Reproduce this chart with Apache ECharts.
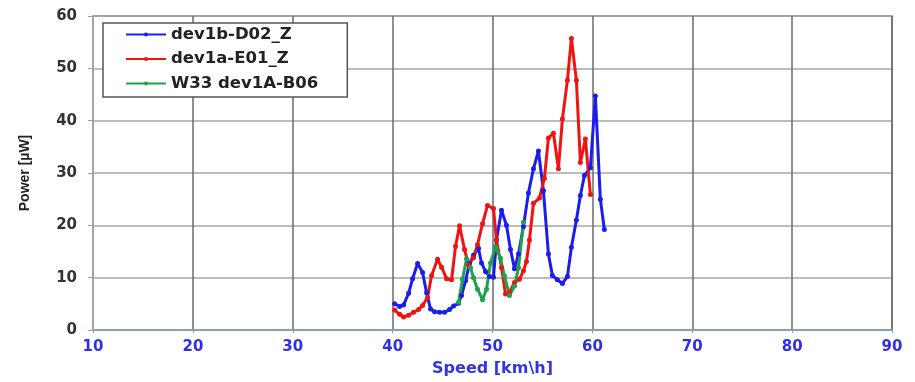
<!DOCTYPE html>
<html>
<head>
<meta charset="utf-8">
<script src="https://cdn.jsdelivr.net/npm/echarts@6/dist/echarts.min.js"></script>
<style>
  html, body { margin: 0; padding: 0; background: #fff; }
  #chart { width: 915px; height: 382px; }
</style>
</head>
<body>
<div id="chart"></div>
<script>
// values
const seriesNames = ['dev1b-D02_Z', 'dev1a-E01_Z', 'W33 dev1A-B06'];
const xTicks = [10, 20, 30, 40, 50, 60, 70, 80, 90];
const yTicks = [0, 10, 20, 30, 40, 50, 60];

const blueSpeed = [40.2, 40.7, 41.1, 41.6, 42.0, 42.5, 43.0, 43.4, 43.8, 44.2, 44.7, 45.2, 45.7, 46.1, 46.6, 46.9,
  47.3, 47.7, 48.1, 48.6, 48.9, 49.3, 49.7, 50.1, 50.4, 50.9, 51.4, 51.8, 52.2, 52.6, 53.1, 53.6, 54.1, 54.6,
  55.1, 55.6, 56.0, 56.5, 57.0, 57.5, 57.9, 58.4, 58.8, 59.2, 59.8, 60.3, 60.8, 61.2];
const bluePower = [5.0, 4.5, 4.8, 7.0, 9.8, 12.7, 11.0, 7.1, 4.0, 3.5, 3.4, 3.4, 3.9, 4.6, 5.1, 6.6,
  9.4, 12.7, 14.3, 15.6, 12.8, 11.2, 10.2, 10.1, 17.2, 22.9, 20.0, 15.4, 11.7, 14.5, 19.8, 26.2, 30.8, 34.2,
  26.6, 14.5, 10.4, 9.6, 8.9, 10.2, 15.8, 21.0, 25.7, 29.5, 31.0, 44.7, 25.0, 19.2];

const redSpeed = [40.2, 40.7, 41.1, 41.6, 42.1, 42.6, 43.0, 43.5, 43.9, 44.5, 44.9, 45.4, 45.9, 46.3, 46.7, 47.2,
  47.6, 48.1, 48.5, 49.0, 49.5, 50.1, 50.4, 50.9, 51.3, 51.7, 52.2, 52.7, 53.1, 53.4, 53.7, 54.1, 54.7, 55.2,
  55.6, 56.1, 56.6, 57.0, 57.5, 57.9, 58.4, 58.8, 59.3, 59.8];
const redPower = [3.8, 3.0, 2.5, 2.8, 3.4, 3.9, 4.7, 6.2, 10.4, 13.5, 12.0, 9.8, 9.6, 16.0, 19.9, 15.4,
  12.4, 13.8, 16.3, 20.3, 23.8, 23.2, 17.2, 11.9, 6.9, 7.2, 9.1, 9.7, 11.3, 13.1, 17.2, 24.2, 25.2, 29.0,
  36.7, 37.6, 30.8, 40.3, 47.7, 55.7, 47.7, 32.0, 36.5, 25.9];

const greenSpeed = [46.6, 47.0, 47.4, 47.8, 48.1, 48.5, 49.0, 49.4, 49.8, 50.3, 50.8, 51.2, 51.7, 52.2, 52.6, 53.1];
const greenPower = [5.3, 9.7, 13.6, 11.9, 10.0, 7.8, 5.8, 7.8, 12.8, 15.9, 13.7, 10.3, 6.6, 8.4, 11.9, 20.6];

const colors = ['#1c1ced', '#ee1414', '#1fa24c'];
const pair = (xs, ys) => xs.map((x, i) => [x, ys[i]]);
const seriesData = [pair(blueSpeed, bluePower), pair(redSpeed, redPower), pair(greenSpeed, greenPower)];

const wideBold = 'DejaVu Sans, Verdana, sans-serif';

const myChart = echarts.init(document.getElementById('chart'), null, {renderer: 'canvas'});
myChart.setOption({
  animation: false,
  textStyle: {fontFamily: 'Liberation Sans, Arial, sans-serif'},
  grid: {
    left: 93, right: 23, top: 16, bottom: 51,
    show: true,
    borderColor: '#808080',
    borderWidth: 1.5
  },
  legend: {
    data: seriesNames,
    orient: 'vertical',
    left: 103,
    top: 23,
    padding: [3, 29, 5, 22],
    itemGap: 7.5,
    itemWidth: 40,
    itemHeight: 5,
    backgroundColor: '#fff',
    borderColor: '#555',
    borderWidth: 1.5,
    lineStyle: {width: 2},
    textStyle: {fontSize: 16.5, fontWeight: 'bold', color: '#222', fontFamily: wideBold}
  },
  xAxis: {
    type: 'value',
    min: xTicks[0],
    max: xTicks[xTicks.length - 1],
    interval: 10,
    name: 'Speed [km\\h]',
    nameLocation: 'middle',
    nameGap: 31,
    nameTextStyle: {fontSize: 16, fontWeight: 'bold', color: '#3333e6', fontFamily: wideBold},
    axisLine: {show: true, lineStyle: {color: '#7f9fc6', width: 1.5}},
    axisTick: {show: true, length: 3, lineStyle: {color: '#7f9fc6'}},
    axisLabel: {fontSize: 15, fontWeight: 'bold', color: '#2f2fe8', margin: 10, fontFamily: wideBold},
    splitLine: {show: true, lineStyle: {color: '#6a6a6a', width: 1.5}}
  },
  yAxis: {
    type: 'value',
    min: yTicks[0],
    max: yTicks[yTicks.length - 1],
    interval: 10,
    name: 'Power [µW]',
    nameLocation: 'middle',
    nameGap: 61,
    nameTextStyle: {fontSize: 14, fontWeight: 'bold', color: '#222'},
    axisLine: {show: true, lineStyle: {color: '#a8b4c4', width: 1.5}},
    axisTick: {show: true, length: 5, lineStyle: {color: '#999'}},
    axisLabel: {fontSize: 15, fontWeight: 'bold', color: '#333', margin: 16, fontFamily: wideBold},
    splitLine: {show: true, lineStyle: {color: '#a6a6a6', width: 1.5}}
  },
  series: seriesNames.map((name, i) => ({
    name: name,
    type: 'line',
    data: seriesData[i],
    symbol: 'circle',
    symbolSize: 5,
    showAllSymbol: true,
    itemStyle: {color: colors[i]},
    lineStyle: {color: colors[i], width: 3}
  }))
});
</script>
</body>
</html>
